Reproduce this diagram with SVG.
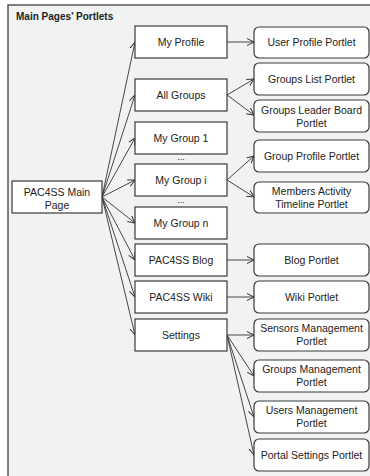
<svg xmlns="http://www.w3.org/2000/svg" width="370" height="476" viewBox="0 0 370 476">
<defs>
<marker id="arr" markerUnits="userSpaceOnUse" markerWidth="10" markerHeight="10" refX="7" refY="4" orient="auto">
<path d="M0,0.5 L7,4 L0,7.5" fill="none" stroke="#333" stroke-width="1"/>
</marker>
</defs>
<style>
text{font-family:"Liberation Sans",Arial,sans-serif;font-size:10.5px;fill:#222;text-anchor:middle}
.title{font-weight:bold;font-size:10px;text-anchor:start}
.sq{fill:#fff;stroke:#3a3a3a;stroke-width:1.2}
.rd{fill:#fff;stroke:#3a3a3a;stroke-width:1.2}
.c line{stroke:#333;stroke-width:0.9;marker-end:url(#arr)}
.dots{font-size:9px}
</style>
<rect x="8" y="5" width="365" height="475" fill="#f1f2f2" stroke="#555" stroke-width="1.5"/>
<text class="title" x="16" y="20">Main Pages’ Portlets</text>

<g id="connectors" class="c">
<line x1="102" y1="197" x2="135" y2="42"/>
<line x1="102" y1="197" x2="135" y2="95"/>
<line x1="102" y1="197" x2="135" y2="138"/>
<line x1="102" y1="197" x2="135" y2="180"/>
<line x1="102" y1="197" x2="135" y2="223"/>
<line x1="102" y1="197" x2="135" y2="260"/>
<line x1="102" y1="197" x2="135" y2="297"/>
<line x1="102" y1="197" x2="135" y2="335"/>
<line x1="227" y1="42" x2="254" y2="42"/>
<line x1="227" y1="95" x2="254" y2="79"/>
<line x1="227" y1="95" x2="254" y2="115"/>
<line x1="227" y1="180" x2="254" y2="156"/>
<line x1="227" y1="180" x2="254" y2="197"/>
<line x1="227" y1="260" x2="254" y2="260"/>
<line x1="227" y1="297" x2="254" y2="297"/>
<line x1="227" y1="335" x2="254" y2="335"/>
<line x1="227" y1="335" x2="254" y2="376"/>
<line x1="227" y1="335" x2="254" y2="417"/>
<line x1="227" y1="335" x2="254" y2="455"/>
</g>

<g id="main"><rect class="sq" x="12" y="181" width="90" height="32"/><text x="57" y="196">PAC4SS Main</text><text x="57" y="208.5">Page</text></g>

<g id="myprofile"><rect class="sq" x="135" y="26" width="92" height="32"/><text x="181" y="46">My Profile</text></g>
<g id="allgroups"><rect class="sq" x="135" y="79" width="92" height="32"/><text x="181" y="99">All Groups</text></g>
<g id="mygroup1"><rect class="sq" x="135" y="122" width="92" height="32"/><text x="181" y="142">My Group 1</text></g>
<text class="dots" x="181" y="160">...</text>
<g id="mygroupi"><rect class="sq" x="135" y="164" width="92" height="32"/><text x="181" y="184">My Group i</text></g>
<text class="dots" x="181" y="203">...</text>
<g id="mygroupn"><rect class="sq" x="135" y="207" width="92" height="32"/><text x="181" y="227">My Group n</text></g>
<g id="blog"><rect class="sq" x="135" y="244" width="92" height="32"/><text x="181" y="264">PAC4SS Blog</text></g>
<g id="wiki"><rect class="sq" x="135" y="281" width="92" height="32"/><text x="181" y="301">PAC4SS Wiki</text></g>
<g id="settings"><rect class="sq" x="135" y="319" width="92" height="32"/><text x="181" y="339">Settings</text></g>

<g id="userprofile"><rect class="rd" x="254" y="27" width="115" height="31" rx="5"/><text x="311.5" y="46">User Profile Portlet</text></g>
<g id="groupslist"><rect class="rd" x="254" y="63" width="115" height="32" rx="5"/><text x="311.5" y="83">Groups List Portlet</text></g>
<g id="groupsleader"><rect class="rd" x="254" y="100" width="115" height="32" rx="5"/><text x="311.5" y="113.5">Groups Leader Board</text><text x="311.5" y="126.5">Portlet</text></g>
<g id="groupprofile"><rect class="rd" x="254" y="140" width="115" height="32" rx="5"/><text x="311.5" y="160">Group Profile Portlet</text></g>
<g id="membersactivity"><rect class="rd" x="254" y="182" width="115" height="31" rx="5"/><text x="311.5" y="195">Members Activity</text><text x="311.5" y="208">Timeline Portlet</text></g>
<g id="blogportlet"><rect class="rd" x="254" y="244" width="115" height="32" rx="5"/><text x="311.5" y="264">Blog Portlet</text></g>
<g id="wikiportlet"><rect class="rd" x="254" y="281" width="115" height="32" rx="5"/><text x="311.5" y="301">Wiki Portlet</text></g>
<g id="sensors"><rect class="rd" x="254" y="319" width="115" height="32" rx="5"/><text x="311.5" y="332">Sensors Management</text><text x="311.5" y="345">Portlet</text></g>
<g id="groupsmgmt"><rect class="rd" x="254" y="360" width="115" height="32" rx="5"/><text x="311.5" y="373">Groups Management</text><text x="311.5" y="386">Portlet</text></g>
<g id="usersmgmt"><rect class="rd" x="254" y="401" width="115" height="32" rx="5"/><text x="311.5" y="414">Users Management</text><text x="311.5" y="427">Portlet</text></g>
<g id="portalsettings"><rect class="rd" x="254" y="439" width="115" height="32" rx="5"/><text x="311.5" y="459">Portal Settings Portlet</text></g>
</svg>
